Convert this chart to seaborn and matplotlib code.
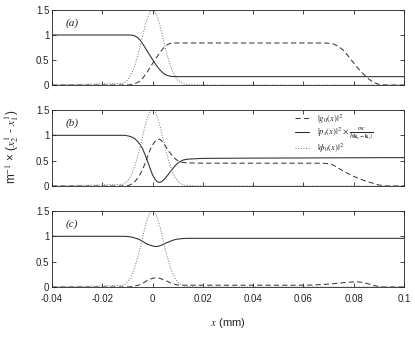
import matplotlib
matplotlib.use('Agg')
import matplotlib.pyplot as plt
import seaborn as sns

x_mm = [-0.04,
        -0.012, -0.011, -0.010, -0.009, -0.008, -0.007, -0.006, -0.005, -0.004,
        -0.003, -0.002, -0.001, 0.0, 0.001, 0.002, 0.003, 0.004, 0.005,
        0.006, 0.007, 0.008, 0.009, 0.010, 0.011, 0.012, 0.013, 0.014,
        0.02, 0.04, 0.06, 0.064, 0.068, 0.07, 0.072, 0.074, 0.076, 0.078,
        0.08, 0.082, 0.084, 0.086, 0.088, 0.09, 0.092, 0.094, 0.1]

# |phi_0(x)|^2 (same in every panel)
phi0 = [0.0,
        0.03, 0.057, 0.10, 0.17, 0.27, 0.40, 0.57, 0.76, 0.97,
        1.18, 1.35, 1.46, 1.5, 1.46, 1.35, 1.18, 0.97, 0.76,
        0.57, 0.40, 0.27, 0.17, 0.10, 0.057, 0.03, 0.016, 0.008,
        0, 0, 0, 0, 0, 0, 0, 0, 0, 0,
        0, 0, 0, 0, 0, 0, 0, 0, 0]

# panel (a)
ps_a = [1.0,
        1.0, 1.0, 1.0, 1.0, 0.995, 0.98, 0.95, 0.90, 0.83,
        0.75, 0.67, 0.59, 0.51, 0.43, 0.36, 0.30, 0.25, 0.21,
        0.19, 0.175, 0.17, 0.168, 0.167, 0.167, 0.167, 0.167, 0.167,
        0.167, 0.167, 0.167, 0.167, 0.167, 0.167, 0.167, 0.167, 0.167, 0.167,
        0.167, 0.167, 0.167, 0.167, 0.167, 0.167, 0.167, 0.167, 0.167]
g0_a = [0.0,
        0, 0, 0, 0.005, 0.015, 0.03, 0.05, 0.08, 0.13,
        0.20, 0.27, 0.35, 0.43, 0.51, 0.58, 0.65, 0.72, 0.77,
        0.81, 0.83, 0.84, 0.84, 0.84, 0.84, 0.84, 0.84, 0.84,
        0.84, 0.84, 0.84, 0.84, 0.84, 0.835, 0.82, 0.77, 0.69, 0.57,
        0.44, 0.32, 0.21, 0.12, 0.05, 0.015, 0.003, 0, 0]

# panel (b)
ps_b = [1.0,
        1.0, 1.0, 0.99, 0.98, 0.96, 0.93, 0.88, 0.82, 0.74,
        0.62, 0.49, 0.35, 0.22, 0.13, 0.08, 0.07, 0.10, 0.15,
        0.21, 0.28, 0.34, 0.40, 0.45, 0.48, 0.51, 0.52, 0.53,
        0.545, 0.55, 0.553, 0.554, 0.555, 0.555, 0.556, 0.556, 0.556, 0.557,
        0.557, 0.557, 0.558, 0.558, 0.558, 0.559, 0.559, 0.559, 0.56]
g0_b = [0.0,
        0, 0, 0.005, 0.02, 0.05, 0.09, 0.15, 0.23, 0.32,
        0.44, 0.58, 0.71, 0.81, 0.88, 0.92, 0.92, 0.87, 0.80,
        0.72, 0.65, 0.59, 0.54, 0.50, 0.48, 0.465, 0.46, 0.455,
        0.45, 0.45, 0.45, 0.45, 0.448, 0.44, 0.41, 0.35, 0.29, 0.24,
        0.19, 0.15, 0.11, 0.08, 0.05, 0.02, 0.005, 0, 0]

# panel (c)
ps_c = [1.0,
        1.0, 1.0, 0.995, 0.99, 0.98, 0.965, 0.95, 0.93, 0.90,
        0.87, 0.845, 0.825, 0.81, 0.80, 0.80, 0.815, 0.835, 0.86,
        0.88, 0.90, 0.92, 0.935, 0.945, 0.95, 0.955, 0.958, 0.96,
        0.96, 0.96, 0.96, 0.96, 0.96, 0.96, 0.96, 0.96, 0.96, 0.96,
        0.96, 0.96, 0.96, 0.96, 0.96, 0.96, 0.96, 0.96, 0.96]
g0_c = [0.0,
        0, 0, 0, 0.003, 0.01, 0.02, 0.03, 0.045, 0.07,
        0.10, 0.13, 0.155, 0.17, 0.18, 0.18, 0.17, 0.15, 0.13,
        0.11, 0.085, 0.065, 0.05, 0.04, 0.037, 0.035, 0.035, 0.035,
        0.035, 0.035, 0.035, 0.04, 0.05, 0.057, 0.065, 0.075, 0.085, 0.095,
        0.10, 0.10, 0.085, 0.06, 0.03, 0.01, 0, 0, 0]

panel_names = ['(a)', '(b)', '(c)']
x_ticks = [-0.04, -0.02, 0, 0.02, 0.04, 0.06, 0.08, 0.1]
x_ticklabels = ['-0.04', '-0.02', '0', '0.02', '0.04', '0.06', '0.08', '0.1']
y_ticks = [0, 0.5, 1, 1.5]
y_ticklabels = ['0', '0.5', '1', '1.5']

legend_labels = [r'$|g_0(x)|^2$',
                 r'$|p_s(x)|^2 \times \frac{mc}{\hbar|\mathbf{k}_s - \mathbf{k}_c|}$',
                 r'$|\phi_0(x)|^2$']

sns.set_style('ticks')
plt.rcParams['font.family'] = ['Liberation Sans', 'DejaVu Sans']
plt.rcParams['mathtext.fontset'] = 'stix'

fig = plt.figure(figsize=(4.15, 3.38), dpi=100)
bottoms = [0.7485, 0.4497, 0.1509]
heights = [0.222, 0.225, 0.225]

panels = [(g0_a, ps_a), (g0_b, ps_b), (g0_c, ps_c)]
for i, (g0, ps) in enumerate(panels):
    ax = fig.add_axes([0.1253, bottoms[i], 0.848, heights[i]])
    sns.lineplot(x=x_mm, y=g0, ax=ax, color='#3a3a3a', lw=0.75,
                 linestyle=(0, (5, 3)), label=legend_labels[0])
    sns.lineplot(x=x_mm, y=ps, ax=ax, color='#2a2a2a', lw=0.75,
                 label=legend_labels[1])
    sns.lineplot(x=x_mm, y=phi0, ax=ax, color='#808080', lw=0.75,
                 linestyle=(0, (1, 1.5)), label=legend_labels[2])
    ax.set_xlim(-0.04, 0.1)
    ax.set_ylim(0, 1.5)
    ax.set_yticks(y_ticks)
    ax.set_yticklabels(y_ticklabels)
    ax.set_xticks(x_ticks)
    if i == 2:
        ax.set_xticklabels(x_ticklabels)
    else:
        ax.set_xticklabels([])
    ax.tick_params(direction='in', top=True, right=True, length=3,
                   width=0.6, labelsize=7, pad=2)
    ax.tick_params(axis='x', pad=5)
    for s in ax.spines.values():
        s.set_linewidth(0.6)
        s.set_color('#222222')
    ax.set_xlabel('')
    ax.set_ylabel('')
    ax.text(0.038, 0.83, panel_names[i], transform=ax.transAxes,
            family='Liberation Serif', style='italic', fontsize=8, va='center')
    if i == 1:
        ax.legend(loc='upper left', bbox_to_anchor=(0.675, 1.04), frameon=False,
                  fontsize=6.3, handlelength=1.6, handletextpad=0.9,
                  borderaxespad=0.2, labelspacing=0.0)
    else:
        ax.get_legend().remove()

fig.text(0.549, 0.044, r'$x$ (mm)', ha='center', va='center', fontsize=8)
fig.text(0.03, 0.565, r'm$^{-1}$ × ($x_2^1$ - $x_1^1$)', ha='center',
         va='center', rotation=90, fontsize=8.5)

fig.savefig('out.png', dpi=100)
